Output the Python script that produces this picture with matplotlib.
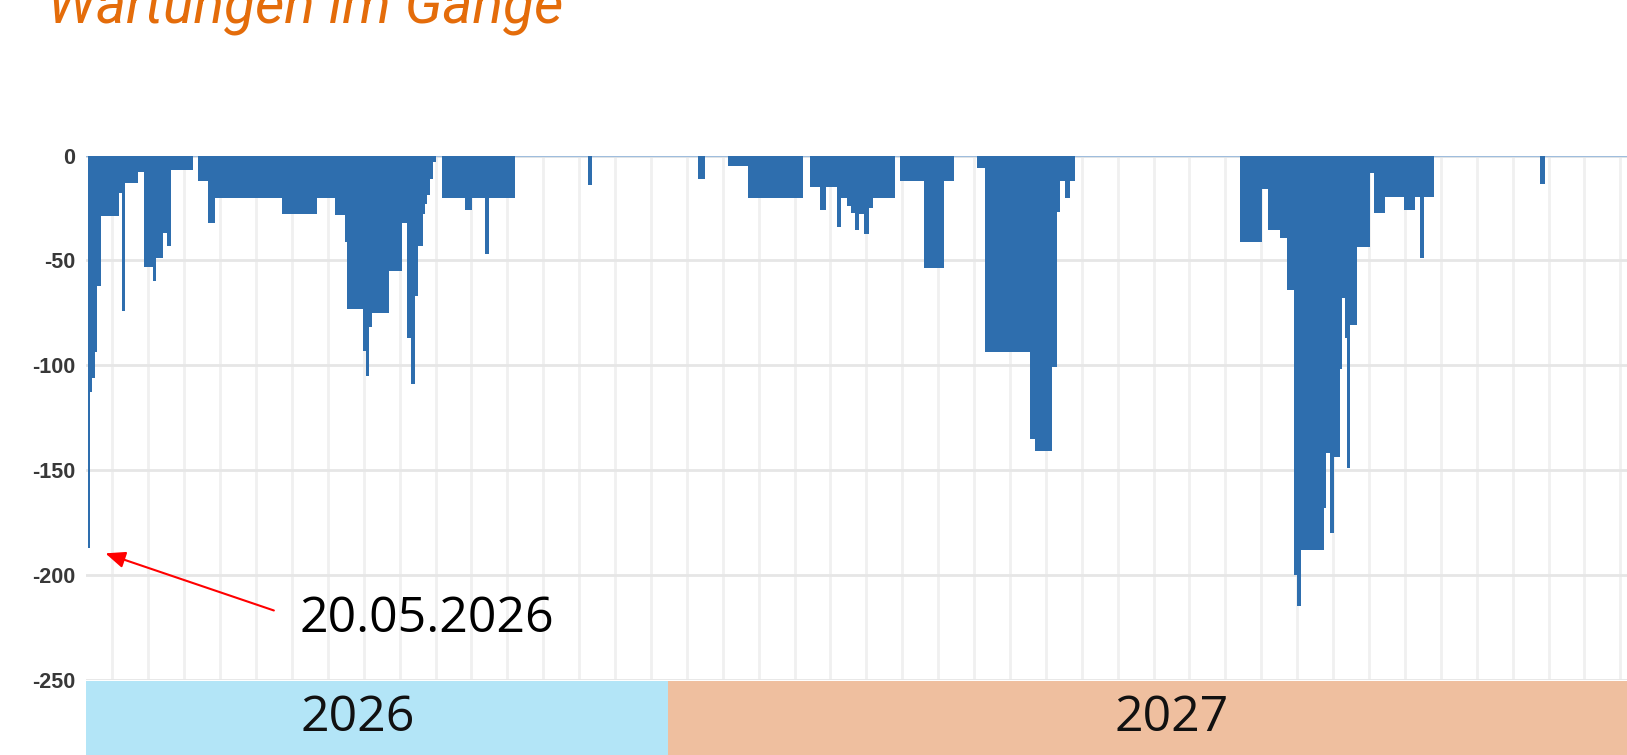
"""Maintenance backlog chart: open maintenance steps over time."""

import datetime as dt

import matplotlib
matplotlib.use("Agg")
import matplotlib.pyplot as plt
from matplotlib.ticker import MultipleLocator

START = dt.date(2026, 5, 20)

# step series: day (offset from START) at which a level begins, and the level
step_day = [
    0.0, 0.7, 1.3, 2.6, 3.5, 4.8, 12.1, 13.0, 14.3, 19.5, 21.7, 25.1, 26.4,
    29.0, 30.8, 32.1, 41.0, 42.9, 46.8, 49.4, 75.4, 89.3, 96.2, 100.1, 100.9,
    107.3, 108.3, 109.6, 110.5, 117.4, 122.2, 124.2, 125.7, 127.4, 128.7,
    130.4, 131.3, 132.2, 133.3, 134.3, 135.6, 137.8, 146.9, 149.5, 154.7,
    156.3, 166.4, 195.0, 196.6, 237.9, 240.5, 249.6, 257.4, 278.6, 281.5,
    285.4, 287.7, 292.1, 293.5, 295.8, 297.4, 299.0, 300.7, 302.5, 304.6,
    305.9, 314.6, 316.6, 325.7, 333.5, 337.6, 346.5, 349.7, 367.3, 369.2,
    375.7, 377.7, 379.0, 380.9, 382.9, 384.8, 449.2, 457.6, 460.2, 464.8,
    467.4, 470.0, 471.3, 472.9, 481.7, 482.7, 484.3, 485.8, 487.9, 488.9,
    490.1, 491.0, 492.1, 494.9, 499.9, 501.4, 505.7, 512.9, 517.4, 519.4,
    520.9, 524.8, 566.2, 568.1,
]
step_value = [
    -187, -113, -106, -93.5, -62, -29, -18, -74, -13, -8, -53, -60, -49,
    -37, -43, -7, 0, -12, -32, -20, -28, -20, -28.5, -41, -73,
    -93, -105, -82, -75, -55, -32, -87, -109, -67, -43,
    -28, -23, -19, -11, -3, 0, -20, -26, -20, -47,
    -20, 0, -14, 0, -11, 0, -5, -20, 0, -15,
    -26, -15, -34, -20, -24, -27.5, -35.5, -28, -37.5, -25,
    -20, 0, -12, -53.5, -12, 0, -6, -93.5, -135, -141,
    -101, -27, -12, -20, -12, 0, -41, -16, -35.5, -39.5,
    -64, -200, -215, -188, -168, -142, -180, -144, -102, -68,
    -87, -149, -81, -43.5, -8.5, -27.5, -19.6, -26, -19.6, -49,
    -19.6, 0, -13.6, 0,
]
END_DAY = 600.0

year_labels = ["2026", "2027"]
year_first_day = [0, (dt.date(2027, 1, 1) - START).days]
y_ticks = [0, -50, -100, -150, -200, -250]
marked_label = START.strftime("%d.%m.%Y")

BLUE = "#2E6EAE"
ORANGE = "#E46C0A"
YEAR_COLORS = ["#B3E5F7", "#EFBF9F"]

plt.rcParams["axes.unicode_minus"] = False

W, H = 1627, 755
fig = plt.figure(figsize=(W / 100, H / 100), dpi=100)

left = 86 / W
width = 1 - left
ax = fig.add_axes([left, 75.4 / H, width, (679.6 - 155.6) / H])

edges = step_day + [END_DAY]
ax.axhline(0, color="#9FBDDD", lw=1.6, zorder=1)
ax.stairs(step_value, edges, fill=True, baseline=0, color=BLUE, lw=0, zorder=2)

ax.set_xlim(-0.9, END_DAY)
ax.set_ylim(-250, 0)
ax.set_yticks(y_ticks)
ax.set_yticklabels([str(t) for t in y_ticks], fontsize=15.5, fontweight="bold",
                   family="Liberation Sans", color="#383838")
ax.xaxis.set_major_locator(MultipleLocator(14, offset=9.4))
ax.tick_params(axis="both", length=0)
ax.tick_params(axis="y", pad=8)
ax.tick_params(axis="x", labelbottom=False)
ax.grid(axis="y", color="#E6E6E6", lw=2)
ax.grid(axis="x", color="#F0F0F0", lw=2)
ax.set_axisbelow(True)
for s in ax.spines.values():
    s.set_visible(False)

# year band below the chart
band = fig.add_axes([left, 0, width, 74 / H])
bounds = year_first_day[1:] + [END_DAY]
starts = [-0.9] + year_first_day[1:]
for lbl, x0, x1, c in zip(year_labels, starts, bounds, YEAR_COLORS):
    band.axvspan(x0, x1, color=c, lw=0)
band.set_xlim(-0.9, END_DAY)
band.set_ylim(0, 1)
band.axis("off")
for lbl, xf in zip(year_labels, [0.1765, 0.7047]):
    band.text(xf, 0.5, lbl, transform=band.transAxes, ha="center", va="center",
              fontsize=36, family="Open Sans", color="#111111")

# marker for the first date
ax.annotate(marked_label, xy=(step_day[0], step_value[0]),
            xytext=(299 / W, 1 - 619 / H), textcoords="figure fraction",
            ha="left", va="center", fontsize=36, family="Open Sans", color="black",
            arrowprops=dict(arrowstyle="-|>,head_length=0.6,head_width=0.25",
                            color="red", lw=1.5, shrinkA=17, shrinkB=13,
                            relpos=(0, 0.5), mutation_scale=20),
            annotation_clip=False)

fig.text(47 / W, 1 - 24 / H, "Wartungen im Gange", fontsize=41, style="italic",
         family="Roboto", color=ORANGE, ha="left", va="baseline")

fig.savefig("out.png", dpi=100)
